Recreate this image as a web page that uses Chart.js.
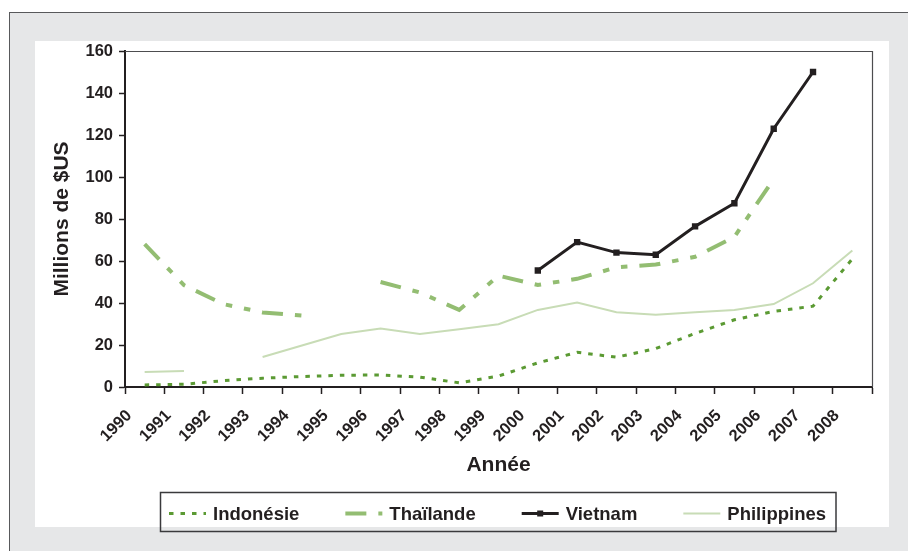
<!DOCTYPE html>
<html lang="fr">
<head>
<meta charset="utf-8">
<title>Millions de $US par année</title>
<script src="https://cdn.jsdelivr.net/npm/chart.js@4.4.1/dist/chart.umd.min.js"></script>
<style>
    html, body { margin: 0; padding: 0; background: #ffffff; }
    #chart { display: block; }
</style>
</head>
<body>
<canvas id="chart" width="908" height="551"></canvas>
<script>
// données (millions de $US)
const years = ['1990', '1991', '1992', '1993', '1994', '1995', '1996', '1997', '1998', '1999',
    '2000', '2001', '2002', '2003', '2004', '2005', '2006', '2007', '2008'];
const indonesie = [1, 1.3, 3, 4.2, 5, 5.6, 5.7, 4.7, 2, 5.2, 11.5, 16.5, 14.2, 18.3, 25.5, 32, 36, 38.5, 61];
const thailande = [68, 48.5, 39.5, 35.5, 34, null, 50, 45, 36.7, 53, 48.6, 51.5, 57, 58.3, 62, 71.5, 99, null, null];
const vietnam = [null, null, null, null, null, null, null, null, null, null, 55.5, 69, 64, 63, 76.5, 87.5, 123, 150, null];
const philippines = [7.2, 7.6, null, 14.3, 19.8, 25.2, 27.9, 25.2, 27.5, 29.9, 36.7, 40.2, 35.6, 34.4, 35.6, 36.7, 39.5, 49.4, 65];
const yTicks = [0, 20, 40, 60, 80, 100, 120, 140, 160];

const ink = '#231f20';
const fontFamily = '"Liberation Sans", Arial, Helvetica, sans-serif';

// fond gris, cadre et panneau blanc
const backdrop = {
    id: 'backdrop',
    beforeDraw(chart) {
        let ctx = chart.ctx;
        ctx.save();
        ctx.fillStyle = '#ffffff';
        ctx.fillRect(0, 0, chart.width, chart.height);
        ctx.fillStyle = '#e6e7e8';
        ctx.fillRect(9, 12, chart.width, chart.height);
        ctx.strokeStyle = '#58595b';
        ctx.lineWidth = 1;
        ctx.strokeRect(9.5, 12.5, chart.width + 20, chart.height + 20);
        ctx.fillStyle = '#ffffff';
        ctx.fillRect(35, 41, 854, 486);
        ctx.restore();
    },
    beforeDatasetsDraw(chart) {
        let { ctx, chartArea: a } = chart;
        ctx.save();
        ctx.strokeStyle = '#4d4d4f';
        ctx.lineWidth = 1.2;
        ctx.beginPath();
        ctx.moveTo(a.left, a.top + 0.5);
        ctx.lineTo(a.right + 0.5, a.top + 0.5);
        ctx.lineTo(a.right + 0.5, a.bottom);
        ctx.stroke();
        ctx.restore();
    }
};

// légende encadrée sous le graphique
const boxLegend = {
    id: 'boxLegend',
    afterDraw(chart) {
        let ctx = chart.ctx;
        ctx.save();
        ctx.strokeStyle = '#3a3a3c';
        ctx.lineWidth = 1.5;
        ctx.strokeRect(160.5, 492.5, 675.5, 39);
        ctx.font = 'bold 18.5px ' + fontFamily;
        ctx.textBaseline = 'alphabetic';
        let x = 169;
        let y = 513.5;
        chart.data.datasets.forEach(ds => {
            ctx.strokeStyle = ds.borderColor;
            ctx.lineWidth = ds.borderWidth;
            ctx.setLineDash(ds.borderDash || []);
            ctx.beginPath();
            ctx.moveTo(x, y);
            ctx.lineTo(x + 37, y);
            ctx.stroke();
            ctx.setLineDash([]);
            if (ds.pointRadius > 0) {
                ctx.fillStyle = ds.pointBackgroundColor;
                ctx.fillRect(x + 15.5, y - 3, 6, 6);
            }
            ctx.fillStyle = ink;
            ctx.fillText(ds.label, x + 44, 519.5);
            x += 44 + ctx.measureText(ds.label).width + 46;
        });
        ctx.restore();
    }
};

const ctx = document.getElementById('chart').getContext('2d');
new Chart(ctx, {
    type: 'line',
    data: {
        labels: years,
        datasets: [{
            label: 'Indonésie',
            data: indonesie,
            borderColor: '#5b9a33',
            borderWidth: 3,
            borderDash: [4.5, 7],
            pointRadius: 0,
            tension: 0
        }, {
            label: 'Thaïlande',
            data: thailande,
            borderColor: '#93bd72',
            borderWidth: 4,
            borderDash: [21, 12, 6.5, 12, 6.5, 12],
            pointRadius: 0,
            tension: 0
        }, {
            label: 'Vietnam',
            data: vietnam,
            borderColor: ink,
            borderWidth: 3,
            pointStyle: 'rect',
            pointRadius: 4.5,
            pointBorderWidth: 0,
            pointBackgroundColor: ink,
            tension: 0
        }, {
            label: 'Philippines',
            data: philippines,
            borderColor: '#c8dcb6',
            borderWidth: 2,
            pointRadius: 0,
            tension: 0
        }]
    },
    options: {
        responsive: false,
        animation: false,
        spanGaps: false,
        layout: {
            padding: { left: 40, top: 51, right: 36, bottom: 69 }
        },
        plugins: {
            legend: { display: false },
            tooltip: { enabled: false }
        },
        scales: {
            x: {
                type: 'category',
                offset: true,
                afterFit: (scale) => { scale.height = 95; },
                border: { color: ink, width: 2 },
                grid: {
                    offset: true,
                    drawOnChartArea: false,
                    drawTicks: true,
                    tickLength: 7,
                    tickWidth: 1.5,
                    color: ink
                },
                ticks: {
                    autoSkip: false,
                    maxRotation: 45,
                    minRotation: 45,
                    padding: 12,
                    labelOffset: -15.5,
                    color: ink,
                    font: { family: fontFamily, size: 16.5, weight: 'bold' }
                },
                title: {
                    display: true,
                    text: 'Année',
                    color: ink,
                    padding: { top: 4, bottom: 4 },
                    font: { family: fontFamily, size: 21, weight: 'bold' }
                }
            },
            y: {
                min: 0,
                max: 160,
                afterFit: (scale) => { scale.width = 85; },
                afterBuildTicks: (scale) => { scale.ticks = yTicks.map(v => ({ value: v })); },
                border: { color: ink, width: 2 },
                grid: {
                    drawOnChartArea: false,
                    drawTicks: true,
                    tickLength: 6,
                    tickWidth: 1.5,
                    color: ink
                },
                ticks: {
                    padding: 6,
                    color: ink,
                    font: { family: fontFamily, size: 16.5, weight: 'bold' }
                },
                title: {
                    display: true,
                    text: 'Millions de $US',
                    color: ink,
                    padding: { top: 10, bottom: 10 },
                    font: { family: fontFamily, size: 21, weight: 'bold' }
                }
            }
        }
    },
    plugins: [backdrop, boxLegend]
});
</script>
</body>
</html>
